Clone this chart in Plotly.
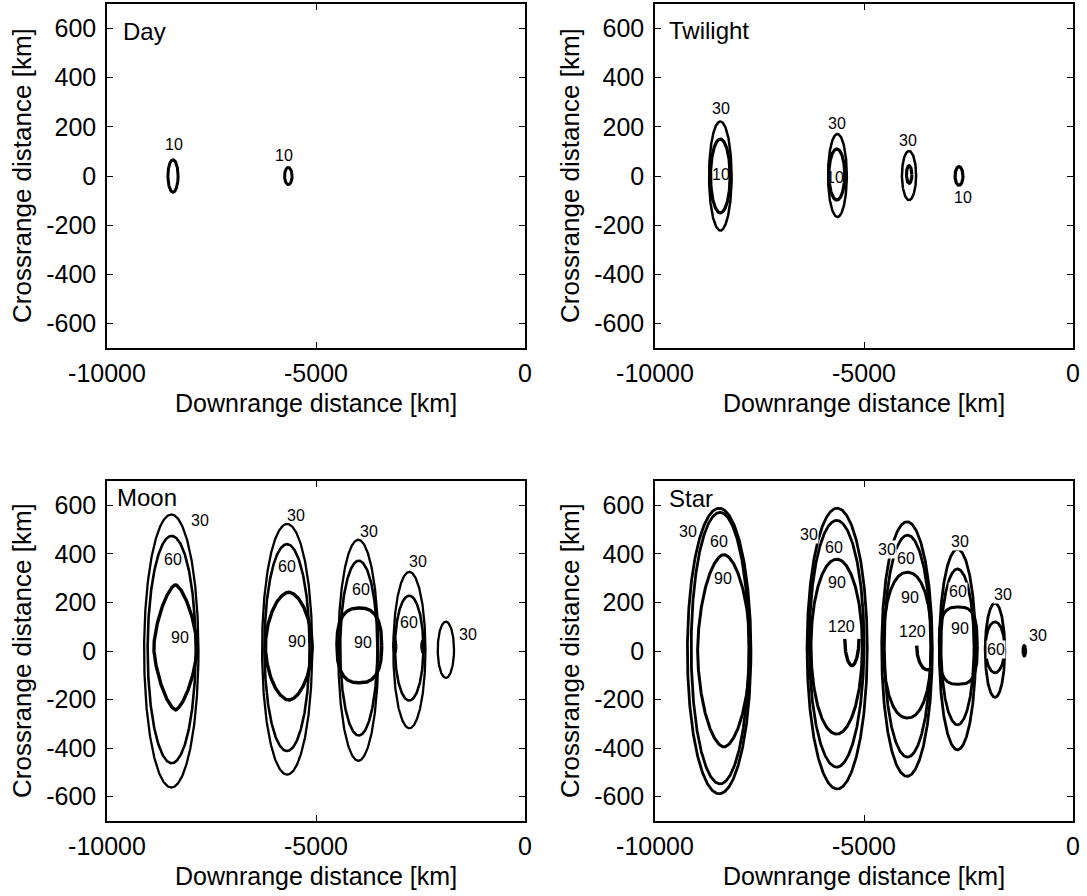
import numpy as np
import plotly.graph_objects as go

# ---------------- data ----------------
# Day panel: contour ellipses (centre, semi-axes) and labels
day_level = [10, 10]
day_cx = [-8421, -5662]
day_cy = [0, 0]
day_rx = [122, 90]
day_ry = [66, 35]
day_p = [2, 2]
day_lbl_text = ["10", "10"]
day_lbl_x = [-8390, -5766]
day_lbl_y = [130, 83]

# Twilight panel
twi_level = [30, 10, 30, 10, 30, 10, 10]
twi_cx = [-8437, -8437, -5636, -5650, -3923, -3920, -2727]
twi_cy = [0, 0, 2, 6, 2, 6, 0]
twi_rx = [270, 235, 225, 190, 170, 65, 95]
twi_ry = [222, 150, 169, 104, 100, 36, 38]
twi_p = [2, 2, 2, 2, 2, 2, 2]
twi_lbl_text = ["30", "10", "30", "10", "30", "10"]
twi_lbl_x = [-8423, -8423, -5636, -5701, -3956, -2624]
twi_lbl_y = [273, 8, 215, -6, 144, -88]

# Moon panel
moon_level = [30, 60, 90, 30, 60, 90, 30, 60, 90, 30, 60, 90, 90, 30]
moon_cx = [-8462, -8453, -8361, -5690, -5694, -5650, -3988, -3976, -3964,
           -2766, -2770, -3115, -2443, -1893]
moon_cy = [0, 6, 15, 7, 14, 20, 3, 12, 23, 4, 12, 18, 18, 5]
moon_rx = [650, 575, 520, 600, 540, 560, 480, 445, 535, 385, 340, 25, 25, 195]
moon_ry = [562, 468, 258, 516, 426, 222, 455, 360, 154, 322, 216, 22, 22, 116]
moon_p = [2, 2, 1.5, 2, 2, 1.8, 2, 2, 2.6, 2, 2, 2, 2, 2]
moon_lbl_text = ["30", "60", "90", "30", "60", "90", "30", "60", "90", "30", "60", "30"]
moon_lbl_x = [-7775, -8429, -8254, -5478, -5687, -5447, -3725, -3931, -3867,
              -2550, -2775, -1364]
moon_lbl_y = [538, 375, 55, 558, 348, 39, 494, 255, 34, 367, 119, 70]

# Star panel
star_level = [30, 60, 90, 30, 60, 90, 30, 60, 90, 30, 60, 90, 30, 60, 30]
star_cx = [-8465, -8445, -8350, -5642, -5654, -5654, -3971, -3959, -3960,
           -2764, -2763, -2744, -1866, -1866, -1165]
star_cy = [0, 12, 1, 10, 30, 18, 8, 20, 24, 6, 17, 22, 3, 15, 1]
star_rx = [760, 690, 630, 720, 655, 615, 605, 555, 575, 435, 395, 455, 235, 230, 35]
star_ry = [588, 559, 396, 578, 508, 360, 524, 457, 300, 413, 321, 159, 194, 105, 22]
star_p = [2, 2, 1.8, 2, 2, 2, 2, 2, 2.2, 2, 2, 3, 2, 2, 2]
# open 120 contours (partial ellipses)
star_arc_level = [120, 120]
star_arc_cx = [-5290, -3480]
star_arc_cy = [50, 22]
star_arc_rx = [170, 260]
star_arc_ry = [110, 100]
star_arc_t0 = [180, 180]
star_arc_t1 = [360, 290]
star_lbl_text = ["30", "60", "90", "30", "60", "90", "120", "30", "60", "90", "120",
                 "30", "60", "90", "30", "60", "30"]
star_lbl_x = [-9203, -8469, -8365, -6309, -5710, -5638, -5534, -4442, -4003, -3900,
              -3836, -2703, -2743, -2703, -1667, -1850, -830]
star_lbl_y = [491, 450, 298, 480, 427, 283, 99, 420, 382, 219, 79, 450, 244, 93,
              233, 8, 63]

panel_titles = ["Day", "Twilight", "Moon", "Star"]
x_ticks = [-10000, -5000, 0]
y_ticks = [-600, -400, -200, 0, 200, 400, 600]
x_range = [-10000, 0]
y_range = [-700, 700]

# ---------------- styling ----------------
FONT = "Liberation Sans, Arial, sans-serif"
W, H = 1087, 896
col_dom = [[107 / W, 525 / W], [655 / W, 1073 / W]]
row_dom = [[1 - 348 / H, 1 - 4 / H], [1 - 821 / H, 1 - 481 / H]]


def curve(cx, cy, rx, ry, p, t0=0.0, t1=360.0, n=361):
    t = np.radians(np.linspace(t0, t1, n))
    c, s = np.cos(t), np.sin(t)
    e = 2.0 / p
    return (cx + rx * np.sign(c) * np.abs(c) ** e,
            cy + ry * np.sign(s) * np.abs(s) ** e)


fig = go.Figure()

panels = [
    dict(level=day_level, cx=day_cx, cy=day_cy, rx=day_rx, ry=day_ry, p=day_p,
         lt=day_lbl_text, lx=day_lbl_x, ly=day_lbl_y,
         width={10: 3.0}, bg=None),
    dict(level=twi_level, cx=twi_cx, cy=twi_cy, rx=twi_rx, ry=twi_ry, p=twi_p,
         lt=twi_lbl_text, lx=twi_lbl_x, ly=twi_lbl_y,
         width={30: 2.5, 10: 3.2}, bg=None),
    dict(level=moon_level, cx=moon_cx, cy=moon_cy, rx=moon_rx, ry=moon_ry, p=moon_p,
         lt=moon_lbl_text, lx=moon_lbl_x, ly=moon_lbl_y,
         width={30: 2.3, 60: 2.6, 90: 3.4}, bg=None),
    dict(level=star_level, cx=star_cx, cy=star_cy, rx=star_rx, ry=star_ry, p=star_p,
         lt=star_lbl_text, lx=star_lbl_x, ly=star_lbl_y,
         width={30: 2.8, 60: 2.8, 90: 3.0, 120: 3.4}, bg="white"),
]

title_offsets = [(14, -28), (12, -27), (8, -17), (12, -18)]

for i, pan in enumerate(panels):
    k = "" if i == 0 else str(i + 1)
    xa, ya = "x" + k, "y" + k
    for lv, cx, cy, rx, ry, p in zip(pan["level"], pan["cx"], pan["cy"],
                                     pan["rx"], pan["ry"], pan["p"]):
        x, y = curve(cx, cy, rx, ry, p)
        fig.add_trace(go.Scatter(x=x, y=y, mode="lines", xaxis=xa, yaxis=ya,
                                 line=dict(color="black", width=pan["width"][lv]),
                                 showlegend=False, hoverinfo="skip"))
    if i == 3:
        for lv, cx, cy, rx, ry, t0, t1 in zip(star_arc_level, star_arc_cx, star_arc_cy,
                                               star_arc_rx, star_arc_ry,
                                               star_arc_t0, star_arc_t1):
            x, y = curve(cx, cy, rx, ry, 2, t0, t1, 181)
            fig.add_trace(go.Scatter(x=x, y=y, mode="lines", xaxis=xa, yaxis=ya,
                                     line=dict(color="black", width=pan["width"][lv]),
                                     showlegend=False, hoverinfo="skip"))
    for t, lx, ly in zip(pan["lt"], pan["lx"], pan["ly"]):
        ann = dict(x=lx, y=ly, xref=xa, yref=ya, text=t, showarrow=False,
                   font=dict(family=FONT, size=16, color="black"),
                   xanchor="center", yanchor="middle")
        if pan["bg"]:
            ann.update(bgcolor=pan["bg"], borderpad=0)
        fig.add_annotation(**ann)

    r, c = divmod(i, 2)
    axis_common = dict(showline=True, linecolor="black", linewidth=1.5, mirror="ticks",
                       ticks="inside", ticklen=6, tickwidth=1, tickcolor="black",
                       showgrid=False, zeroline=False, automargin=False,
                       tickfont=dict(family=FONT, size=25, color="black"))
    fig.update_layout(**{
        ("xaxis" + k): dict(domain=col_dom[c], range=x_range, tickvals=x_ticks,
                            ticktext=[str(v) for v in x_ticks], anchor=ya,
                            ticklabelstandoff=2, **axis_common),
        ("yaxis" + k): dict(domain=row_dom[r], range=y_range, tickvals=y_ticks,
                            ticktext=[str(v) for v in y_ticks], anchor=xa,
                            ticklabelstandoff=4, **axis_common),
    })
    dx = xa + " domain"
    dy = ya + " domain"
    fig.add_annotation(x=0.5, y=0, xref=dx, yref=dy, yshift=-55,
                       text="Downrange distance [km]", showarrow=False,
                       xanchor="center", yanchor="middle",
                       font=dict(family=FONT, size=25, color="black"))
    fig.add_annotation(x=0, y=0.5, xref=dx, yref=dy, xshift=-85,
                       text="Crossrange distance [km]", showarrow=False, textangle=-90,
                       xanchor="center", yanchor="middle",
                       font=dict(family=FONT, size=26, color="black"))
    ox, oy = title_offsets[i]
    fig.add_annotation(x=0, y=1, xref=dx, yref=dy, xshift=ox, yshift=oy,
                       text=panel_titles[i], showarrow=False,
                       xanchor="left", yanchor="middle",
                       font=dict(family=FONT, size=24, color="black"))

fig.update_layout(width=W, height=H, margin=dict(l=0, r=0, t=0, b=0),
                  paper_bgcolor="white", plot_bgcolor="white", showlegend=False)

fig.write_html("out.html")
